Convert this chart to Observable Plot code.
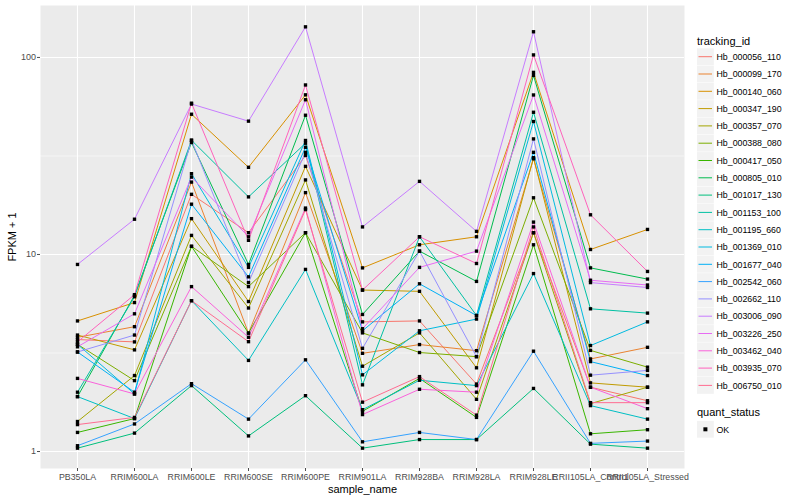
<!DOCTYPE html>
<html><head><meta charset="utf-8">
<script src="https://cdn.jsdelivr.net/npm/d3@7"></script>
<script src="https://cdn.jsdelivr.net/npm/@observablehq/plot@0.6"></script>
<style>body{margin:0;background:#fff;font-family:"Liberation Sans",Arial,sans-serif}</style>
</head><body><div id="chart"></div>
<script>
const samples = ["PB350LA","RRIM600LA","RRIM600LE","RRIM600SE","RRIM600PE","RRIM901LA","RRIM928BA","RRIM928LA","RRIM928LE","RRII105LA_Control","RRII105LA_Stressed"];
const trackingIds = ["Hb_000056_110","Hb_000099_170","Hb_000140_060","Hb_000347_190","Hb_000357_070","Hb_000388_080","Hb_000417_050","Hb_000805_010","Hb_001017_130","Hb_001153_100","Hb_001195_660","Hb_001369_010","Hb_001677_040","Hb_002542_060","Hb_002662_110","Hb_003006_090","Hb_003226_250","Hb_003462_040","Hb_003935_070","Hb_006750_010"];
const lineColors = ["#F8766D","#EA8331","#D89000","#C09B00","#A3A500","#7CAE00","#39B600","#00BB4E","#00BF7D","#00C1A3","#00BFC4","#00BAE0","#00B0F6","#35A2FF","#9590FF","#C77CFF","#E76BF3","#FA62DB","#FF62BC","#FF6C91"];
// FPKM + 1, one row per tracking_id, columns follow samples
const fpkmPlus1 = [
  [3.7, 3.6, 20.2, 12.9, 31.8, 4.55, 4.6, 2.2, 12.9, 2.12, 1.81],
  [3.8, 4.3, 23.3, 3.99, 20.6, 3.15, 3.49, 3.25, 30.6, 2.95, 3.38],
  [4.6, 5.7, 51.5, 27.7, 64.6, 8.55, 11.2, 12.3, 84, 10.6, 13.4],
  [3.9, 3.28, 15.2, 5.77, 28, 6.6, 6.5, 2.66, 31, 2.23, 2.12],
  [1.42, 2.43, 12.5, 5.35, 23.9, 2.71, 4.0, 1.84, 12.9, 1.75, 2.12],
  [3.5, 2.29, 11.0, 6.87, 12.9, 4.0, 3.18, 3.03, 19.4, 3.26, 2.68],
  [1.25, 1.47, 11.0, 3.99, 12.9, 1.6, 2.35, 1.49, 11.2, 1.23, 1.29],
  [1.9, 6.2, 37, 8.9, 50.9, 4.96, 10.4, 7.3, 81, 8.55, 7.5],
  [1.04, 1.24, 2.16, 1.2, 1.92, 1.04, 1.15, 1.15, 2.09, 1.09, 1.04],
  [2.0, 6.1, 38, 19.6, 36.7, 2.18, 12.3, 4.9, 52.7, 5.3, 5.04],
  [1.9, 1.47, 5.83, 2.9, 8.4, 1.63, 2.3, 2.16, 8.0, 1.71, 1.46],
  [3.5, 1.96, 25.7, 8.6, 37.9, 2.45, 4.1, 4.7, 47.3, 3.45, 4.55],
  [3.2, 2.0, 18, 7.7, 35, 4.1, 7.1, 4.9, 33, 2.86, 2.43],
  [1.07, 1.38, 2.21, 1.46, 2.92, 1.12, 1.25, 1.15, 3.23, 1.10, 1.13],
  [3.2, 3.9, 38, 7.2, 33, 3.34, 10.4, 3.03, 38.6, 2.44, 2.58],
  [8.9, 15.1, 58, 47.5, 143, 13.8, 23.5, 13.1, 135, 7.2, 6.8],
  [3.4, 5.0, 24.7, 12.3, 61, 4.2, 8.6, 10.4, 64.5, 7.4, 7.0],
  [2.35, 1.96, 6.87, 3.8, 17.2, 1.54, 2.07, 2.0, 14.6, 2.12, 1.65],
  [3.6, 6.25, 58.6, 11.8, 72.5, 6.6, 12.3, 9.0, 103, 15.9, 8.2],
  [1.37, 1.49, 5.83, 3.61, 16.9, 1.78, 2.4, 1.53, 13.8, 1.77, 1.77]
];
const yTicks = [1, 10, 100];
const yMinorTicks = [3.162, 31.62];
const quantStatus = ["OK"];

const data = trackingIds.flatMap((id, i) => samples.map((s, j) => ({id, sample: s, value: fpkmPlus1[i][j], status: quantStatus[0]})));

const font = "Liberation Sans, Arial, sans-serif";
const plot = Plot.plot({
  width: 800, height: 500,
  marginLeft: 40, marginRight: 116, marginTop: 5, marginBottom: 32,
  style: {fontFamily: font, background: "white", overflow: "visible"},
  x: {type: "point", domain: samples, padding: 0.6},
  y: {type: "log", domain: [0.82, 183.5]},
  color: {domain: trackingIds, range: lineColors},
  marks: [
    Plot.frame({fill: "#EBEBEB"}),
    Plot.ruleY(yMinorTicks, {stroke: "white", strokeWidth: 0.55}),
    Plot.ruleY(yTicks, {stroke: "white", strokeWidth: 1.1}),
    Plot.ruleX(samples, {stroke: "white", strokeWidth: 1.1}),
    Plot.line(data, {x: "sample", y: "value", z: "id", stroke: "id", strokeWidth: 1}),
    Plot.dot(data, {x: "sample", y: "value", fill: "black", r: 1.9, symbol: "square"}),
    Plot.axisY(yTicks, {tickSize: 3, tickPadding: 1.5, fontSize: 9, color: "#4D4D4D", label: null, tickFormat: d => String(d)}),
    Plot.axisX({tickSize: 3, tickPadding: 2, fontSize: 8.8, color: "#4D4D4D", label: null}),
    Plot.text(["FPKM + 1"], {frameAnchor: "left", rotate: -90, dx: -28, fontSize: 11, textAnchor: "middle", lineAnchor: "middle", fill: "black"}),
    Plot.text(["sample_name"], {frameAnchor: "bottom", dy: 21, fontSize: 11, textAnchor: "middle", lineAnchor: "middle", fill: "black"})
  ]
});
document.getElementById("chart").appendChild(plot);

// legend (ggplot-style, right side)
const svg = d3.select(plot);
const lg = svg.append("g").attr("font-family", font).attr("text-anchor", "start");
lg.append("text").attr("x", 697).attr("y", 44.5).attr("font-size", 11).attr("fill", "black").text("tracking_id");
trackingIds.forEach((id, i) => {
  const cy = 56.7 + i * 17.3;
  lg.append("rect").attr("x", 697).attr("y", cy - 8.4).attr("width", 16.8).attr("height", 16.8).attr("fill", "#F2F2F2");
  lg.append("line").attr("x1", 698.5).attr("x2", 712).attr("y1", cy).attr("y2", cy)
    .attr("stroke", lineColors[i]).attr("stroke-width", 1);
  lg.append("text").attr("x", 716.5).attr("y", cy + 3.2).attr("font-size", 8.8).attr("fill", "black").text(id);
});
lg.append("text").attr("x", 697).attr("y", 416).attr("font-size", 11).attr("fill", "black").text("quant_status");
quantStatus.forEach((q, i) => {
  const cy = 429.3 + i * 17.3;
  lg.append("rect").attr("x", 697).attr("y", cy - 8.4).attr("width", 16.8).attr("height", 16.8).attr("fill", "#F2F2F2");
  lg.append("rect").attr("x", 703.4).attr("y", cy - 2).attr("width", 4).attr("height", 4).attr("fill", "black");
  lg.append("text").attr("x", 716.5).attr("y", cy + 3.2).attr("font-size", 8.8).attr("fill", "black").text(q);
});
</script>
</body></html>
